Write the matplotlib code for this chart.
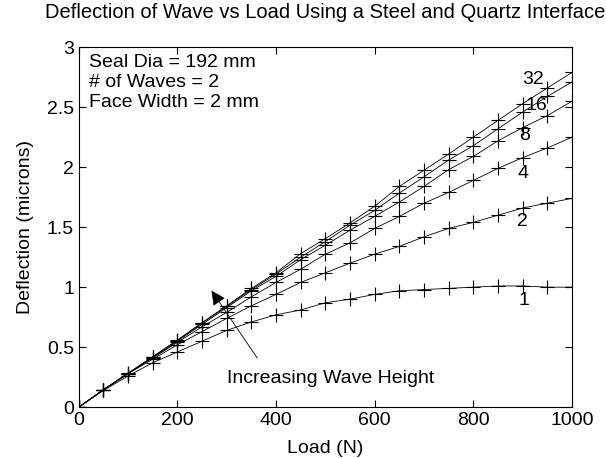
import numpy as np
import matplotlib.pyplot as plt

plt.rcParams['font.family'] = ['Liberation Sans', 'DejaVu Sans']

load = [0, 50, 100, 150, 200, 250, 300, 350, 400, 450, 500,
        550, 600, 650, 700, 750, 800, 850, 900, 950, 1000]

# deflection (microns) for each wave height label
defl_1 = [0, 0.14, 0.26, 0.37, 0.46, 0.55, 0.64, 0.71, 0.77, 0.81, 0.87,
          0.90, 0.94, 0.97, 0.98, 0.99, 1.00, 1.01, 1.01, 1.00, 1.00]
defl_2 = [0, 0.145, 0.28, 0.40, 0.52, 0.63, 0.74, 0.845, 0.94, 1.04, 1.12,
          1.20, 1.275, 1.34, 1.42, 1.49, 1.54, 1.60, 1.66, 1.70, 1.74]
defl_4 = [0, 0.145, 0.28, 0.41, 0.54, 0.67, 0.79, 0.92, 1.04, 1.15, 1.275,
          1.37, 1.49, 1.59, 1.70, 1.79, 1.89, 1.99, 2.08, 2.16, 2.25]
defl_8 = [0, 0.145, 0.28, 0.415, 0.55, 0.69, 0.83, 0.97, 1.09, 1.23, 1.35,
          1.475, 1.59, 1.71, 1.84, 1.98, 2.09, 2.22, 2.33, 2.43, 2.55]
defl_16 = [0, 0.145, 0.28, 0.42, 0.555, 0.70, 0.84, 0.98, 1.11, 1.25, 1.38,
           1.517, 1.64, 1.785, 1.92, 2.06, 2.18, 2.32, 2.46, 2.59, 2.71]
defl_32 = [0, 0.145, 0.285, 0.42, 0.56, 0.705, 0.845, 0.99, 1.12, 1.28, 1.405,
           1.536, 1.675, 1.84, 1.975, 2.11, 2.25, 2.39, 2.53, 2.66, 2.79]

series = [defl_1, defl_2, defl_4, defl_8, defl_16, defl_32]
labels = ['1', '2', '4', '8', '16', '32']
label_pos = [(903, 0.886), (900, 1.55), (900, 1.95), (903, 2.26),
             (928, 2.51), (920, 2.73)]

fig = plt.figure(figsize=(6.06, 4.58), dpi=100)
ax = fig.add_axes([0.130, 0.111, 0.814, 0.786])

for y in series:
    ax.plot(load, y, color='black', lw=0.6, marker='+', markersize=10,
            markeredgewidth=0.8)

for lab, (lx, ly) in zip(labels, label_pos):
    ax.text(lx, ly, lab, fontsize=14, ha='center', va='center')

ax.text(20, 2.94, 'Seal Dia = 192 mm\n# of Waves = 2\nFace Width = 2 mm',
        fontsize=14, va='top', ha='left', linespacing=1.2)

ax.annotate('', xy=(266, 0.99), xytext=(365, 0.39),
            arrowprops=dict(arrowstyle='-|>', color='black', lw=0.6,
                            mutation_scale=22))
ax.text(300, 0.24, 'Increasing Wave Height', fontsize=14, va='center', ha='left')

ax.set_xlim(0, 1000)
ax.set_ylim(0, 3)
ax.set_xticks([0, 200, 400, 600, 800, 1000])
ax.set_yticks([0, 0.5, 1, 1.5, 2, 2.5, 3])
ax.set_yticklabels(['0', '0.5', '1', '1.5', '2', '2.5', '3'])
ax.tick_params(direction='in', top=True, right=True, labelsize=14, length=5)
ax.set_xlabel('Load (N)', fontsize=14, labelpad=8)
ax.set_ylabel('Deflection (microns)', fontsize=14, labelpad=9)
ax.set_title('Deflection of Wave vs Load Using a Steel and Quartz Interface',
             fontsize=14.5, pad=21)

fig.savefig('out.png', dpi=100)
